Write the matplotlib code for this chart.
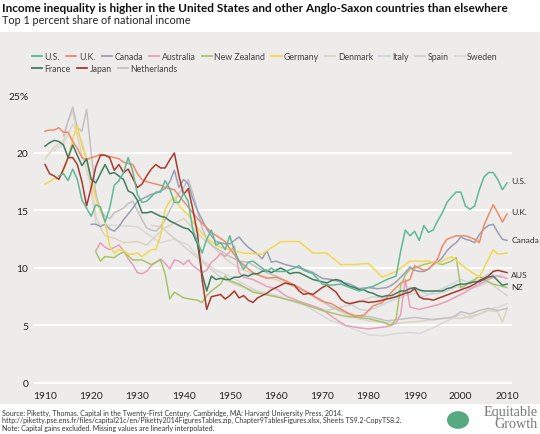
import matplotlib
matplotlib.use("Agg")
import matplotlib.pyplot as plt
from matplotlib.lines import Line2D
from matplotlib.patches import Rectangle, Circle

plt.rcParams['font.family'] = ['Lato', 'DejaVu Sans']

# top 1 percent share of national income, (year, percent)
us = [(1913, 18.0), (1914, 18.2), (1915, 17.6), (1916, 18.6), (1917, 17.7), (1918, 15.9), (1919, 15.2),
      (1920, 14.5), (1921, 15.5), (1922, 15.3), (1923, 14.0), (1924, 15.2), (1925, 17.2), (1926, 17.6),
      (1927, 18.3), (1928, 19.6), (1929, 18.4), (1930, 16.4), (1931, 15.7), (1932, 15.8), (1933, 16.2),
      (1934, 16.6), (1935, 16.6), (1936, 17.6), (1937, 16.9), (1938, 15.7), (1939, 15.7), (1940, 16.5),
      (1941, 15.8), (1942, 13.3), (1943, 12.3), (1944, 11.3), (1945, 12.5), (1946, 13.3), (1947, 12.0),
      (1948, 12.2), (1949, 11.6), (1950, 12.8), (1951, 11.5), (1952, 10.6), (1953, 9.9), (1954, 10.5),
      (1955, 10.6), (1956, 10.3), (1957, 10.0), (1958, 9.7), (1959, 10.0), (1960, 9.7), (1962, 9.7),
      (1964, 10.0), (1965, 10.2), (1966, 9.8), (1968, 9.5), (1970, 8.6), (1972, 8.5), (1974, 8.6),
      (1976, 8.3), (1978, 8.0), (1980, 8.3), (1981, 8.4), (1983, 8.8), (1984, 9.0), (1986, 9.3),
      (1987, 11.5), (1988, 13.3), (1989, 12.8), (1990, 13.2), (1991, 12.4), (1992, 13.7), (1993, 13.1),
      (1994, 13.3), (1995, 14.1), (1996, 14.8), (1997, 15.7), (1998, 16.2), (1999, 16.6), (2000, 16.6),
      (2001, 15.4), (2002, 15.1), (2003, 15.4), (2004, 16.8), (2005, 17.9), (2006, 18.3), (2007, 18.3),
      (2008, 17.7), (2009, 16.8), (2010, 17.4)]

uk = [(1910, 21.9), (1911, 22.0), (1912, 22.0), (1913, 22.2), (1914, 21.8), (1915, 21.8), (1916, 21.0),
      (1917, 20.4), (1918, 19.6), (1919, 19.4), (1920, 19.6), (1921, 19.7), (1922, 19.9), (1923, 19.8),
      (1924, 19.7), (1925, 19.6), (1926, 19.5), (1927, 19.2), (1928, 19.1), (1929, 19.0), (1930, 18.2),
      (1931, 17.7), (1932, 17.5), (1933, 17.4), (1934, 17.3), (1935, 17.2), (1936, 17.0), (1937, 16.9),
      (1938, 16.8), (1943, 14.3), (1946, 13.1), (1949, 12.3), (1950, 11.7), (1952, 10.6), (1955, 9.6),
      (1958, 9.1), (1960, 9.2), (1962, 8.9), (1965, 8.3), (1968, 7.6), (1970, 7.1), (1972, 6.9),
      (1975, 6.2), (1977, 5.8), (1979, 5.9), (1981, 6.7), (1983, 7.0), (1985, 7.9), (1987, 8.7),
      (1989, 9.0), (1990, 10.2), (1992, 9.8), (1993, 9.9), (1994, 10.3), (1995, 10.8), (1996, 11.9),
      (1997, 12.5), (1999, 12.8), (2001, 12.8), (2003, 12.5), (2004, 12.2), (2005, 13.7), (2006, 14.6),
      (2007, 15.5), (2008, 14.8), (2009, 14.0), (2010, 14.7)]

canada = [(1920, 13.8), (1921, 13.8), (1922, 13.6), (1923, 13.8), (1924, 13.4), (1925, 13.2), (1926, 13.6),
          (1927, 14.2), (1928, 14.7), (1929, 15.2), (1930, 15.8), (1931, 16.0), (1932, 16.2), (1933, 16.4),
          (1934, 16.5), (1935, 16.7), (1936, 16.9), (1937, 17.5), (1938, 18.5), (1939, 17.0), (1940, 17.7),
          (1941, 17.3), (1942, 16.0), (1943, 15.0), (1944, 14.2), (1945, 13.4), (1946, 12.8), (1947, 12.3),
          (1948, 12.2), (1949, 12.1), (1950, 12.1), (1951, 12.4), (1952, 12.7), (1953, 12.2), (1954, 11.8),
          (1955, 11.5), (1956, 11.2), (1957, 10.8), (1958, 11.5), (1959, 10.5), (1960, 10.6), (1962, 10.3),
          (1964, 10.1), (1966, 9.9), (1968, 9.6), (1970, 9.1), (1972, 9.0), (1974, 8.8), (1976, 8.6),
          (1978, 8.2), (1980, 8.3), (1982, 8.2), (1984, 8.3), (1985, 8.5), (1986, 8.8), (1987, 9.2),
          (1988, 9.6), (1989, 10.1), (1990, 9.8), (1991, 9.7), (1992, 9.7), (1993, 9.9), (1994, 10.3),
          (1995, 10.5), (1996, 10.9), (1997, 11.5), (1998, 11.9), (1999, 12.2), (2000, 12.7), (2001, 12.5),
          (2002, 12.4), (2003, 12.2), (2004, 12.9), (2005, 13.4), (2006, 13.7), (2007, 13.8), (2008, 13.1),
          (2009, 12.5), (2010, 12.4)]

australia = [(1921, 11.5), (1922, 12.2), (1923, 11.8), (1924, 11.6), (1925, 11.8), (1926, 12.0), (1927, 11.5),
             (1928, 10.8), (1929, 10.3), (1930, 9.6), (1931, 9.5), (1932, 9.7), (1933, 10.2), (1934, 10.5),
             (1935, 10.8), (1936, 10.4), (1937, 9.9), (1938, 10.7), (1939, 10.6), (1940, 10.3), (1941, 10.7),
             (1942, 10.2), (1943, 9.9), (1944, 9.6), (1945, 9.8), (1946, 10.5), (1947, 10.8), (1948, 11.3),
             (1949, 11.0), (1950, 11.4), (1951, 11.9), (1952, 9.6), (1953, 9.2), (1955, 9.0), (1958, 8.4),
             (1960, 8.2), (1962, 7.6), (1965, 7.1), (1968, 6.7), (1970, 6.4), (1972, 5.8), (1975, 5.0),
             (1978, 4.8), (1980, 4.7), (1982, 4.8), (1984, 4.9), (1986, 5.2), (1987, 6.0), (1988, 9.0),
             (1989, 6.6), (1991, 6.4), (1993, 6.6), (1995, 6.8), (1997, 7.1), (1999, 7.5), (2001, 7.9),
             (2003, 8.4), (2005, 8.8), (2007, 9.2), (2008, 9.3), (2010, 9.1)]

new_zealand = [(1921, 11.4), (1922, 10.6), (1923, 11.0), (1925, 10.9), (1926, 11.2), (1927, 11.4), (1929, 10.7),
               (1931, 10.7), (1933, 10.3), (1935, 10.7), (1936, 9.5), (1937, 7.3), (1938, 7.9), (1940, 7.4),
               (1943, 7.2), (1944, 7.0), (1945, 7.6), (1946, 8.0), (1947, 8.3), (1948, 8.6), (1949, 9.3),
               (1950, 8.9), (1952, 8.6), (1955, 7.9), (1960, 7.5), (1965, 7.0), (1970, 6.3), (1975, 5.8),
               (1980, 5.6), (1983, 5.3), (1985, 5.0), (1986, 5.6), (1987, 8.5), (1988, 9.4), (1989, 9.9),
               (1990, 10.0), (1992, 10.3), (1994, 10.5), (1996, 10.3), (1998, 10.6), (1999, 10.9), (2000, 8.3),
               (2001, 8.5), (2002, 8.8), (2003, 9.0), (2004, 9.3), (2005, 9.0), (2006, 8.8), (2007, 8.6),
               (2008, 8.5), (2009, 8.4), (2010, 8.3)]

germany = [(1910, 17.3), (1911, 17.5), (1912, 17.8), (1913, 17.8), (1914, 18.5), (1915, 19.5), (1916, 21.2),
           (1917, 22.4), (1918, 20.6), (1919, 19.5), (1920, 17.8), (1921, 16.0), (1922, 15.0), (1923, 14.0),
           (1924, 11.9), (1925, 11.3), (1926, 11.6), (1927, 11.5), (1928, 11.2), (1929, 11.2), (1930, 11.3),
           (1931, 11.0), (1932, 11.3), (1933, 11.6), (1934, 11.6), (1935, 12.8), (1936, 15.1), (1937, 15.8),
           (1938, 16.2), (1939, 15.4), (1940, 15.0), (1941, 14.6), (1942, 14.0), (1943, 13.5), (1944, 13.0),
           (1945, 12.6), (1946, 12.3), (1947, 12.0), (1948, 11.8), (1950, 11.6), (1953, 11.3), (1957, 11.2),
           (1958, 11.5), (1960, 12.0), (1961, 12.3), (1965, 12.3), (1968, 11.3), (1971, 11.3), (1974, 10.3),
           (1977, 10.3), (1980, 10.4), (1983, 9.2), (1986, 9.7), (1989, 10.6), (1993, 10.6), (1995, 10.4),
           (1998, 11.0), (2001, 10.0), (2004, 9.2), (2007, 11.6), (2008, 11.2), (2010, 11.3)]

denmark = [(1910, 19.5), (1912, 20.5), (1914, 21.0), (1915, 22.8), (1916, 23.6), (1917, 21.5), (1918, 19.8),
           (1919, 18.5), (1920, 17.0), (1921, 14.5), (1922, 13.5), (1923, 12.8), (1925, 12.6), (1927, 12.2),
           (1930, 12.3), (1932, 12.0), (1934, 12.8), (1936, 13.5), (1938, 13.9), (1940, 14.3), (1942, 13.5),
           (1944, 12.6), (1946, 12.0), (1948, 11.2), (1950, 10.5), (1952, 10.0), (1955, 9.5), (1958, 9.2),
           (1960, 9.0), (1963, 8.5), (1966, 8.0), (1969, 7.3), (1972, 6.6), (1975, 6.0), (1978, 5.6),
           (1980, 5.4), (1983, 5.3), (1986, 5.2), (1989, 5.3), (1992, 5.4), (1995, 5.6), (1998, 5.7),
           (2000, 5.6), (2002, 5.8), (2004, 6.0), (2006, 6.3), (2008, 6.2), (2009, 5.3), (2010, 6.4)]

italy = [(1974, 7.2), (1976, 6.9), (1978, 6.4), (1980, 6.3), (1982, 6.6), (1984, 7.0), (1986, 7.3), (1988, 7.6),
         (1990, 7.8), (1992, 7.5), (1994, 7.9), (1996, 8.2), (1998, 8.6), (2000, 9.0), (2002, 8.7), (2004, 9.0),
         (2006, 9.5), (2008, 9.3), (2009, 9.4)]

spain = [(1933, 13.7), (1935, 13.6), (1945, 10.2), (1948, 9.2), (1951, 8.6), (1954, 8.2), (1957, 7.8),
         (1960, 7.6), (1963, 7.2), (1966, 6.8), (1969, 6.5), (1971, 6.3), (1976, 6.8), (1981, 7.5), (1983, 7.4),
         (1985, 7.3), (1987, 7.8), (1989, 8.3), (1991, 8.0), (1993, 7.7), (1995, 7.8), (1997, 8.0), (1999, 8.4),
         (2001, 8.2), (2003, 8.3), (2005, 8.6), (2006, 8.8), (2008, 8.2), (2010, 7.6)]

sweden = [(1912, 20.2), (1914, 20.8), (1916, 22.5), (1918, 21.0), (1919, 19.5), (1920, 17.0), (1921, 13.8),
          (1925, 13.7), (1930, 13.6), (1932, 13.0), (1935, 12.2), (1938, 12.5), (1941, 12.0), (1943, 11.0),
          (1945, 10.4), (1947, 9.8), (1950, 9.3), (1953, 8.6), (1956, 8.0), (1960, 7.6), (1963, 7.2),
          (1966, 6.8), (1969, 6.1), (1972, 5.4), (1975, 5.0), (1978, 4.5), (1980, 4.2), (1983, 4.1),
          (1986, 4.3), (1989, 4.4), (1991, 4.3), (1994, 4.8), (1997, 5.4), (2000, 6.0), (2002, 5.6),
          (2004, 6.0), (2006, 6.4), (2008, 6.6), (2010, 6.9)]

france = [(1910, 20.6), (1911, 20.9), (1912, 21.1), (1913, 21.0), (1914, 20.7), (1915, 19.6), (1916, 20.7),
          (1917, 19.8), (1918, 18.9), (1919, 19.5), (1920, 17.7), (1921, 17.4), (1922, 18.2), (1923, 19.0),
          (1924, 18.2), (1925, 18.3), (1926, 18.0), (1927, 17.7), (1928, 16.7), (1929, 16.5), (1930, 15.9),
          (1931, 14.8), (1932, 14.8), (1933, 14.9), (1934, 14.7), (1935, 14.5), (1936, 14.4), (1937, 14.1),
          (1938, 13.9), (1939, 13.7), (1940, 13.5), (1941, 13.4), (1942, 13.0), (1943, 12.1), (1944, 9.5),
          (1945, 8.0), (1946, 9.3), (1947, 9.0), (1948, 9.1), (1949, 9.0), (1950, 9.0), (1951, 9.2),
          (1952, 9.2), (1953, 9.4), (1954, 9.3), (1955, 9.5), (1956, 9.5), (1957, 9.7), (1958, 9.8),
          (1959, 9.6), (1960, 9.8), (1961, 10.0), (1962, 9.8), (1963, 9.5), (1964, 9.6), (1965, 9.6),
          (1966, 9.4), (1967, 9.2), (1968, 9.0), (1969, 8.9), (1970, 8.8), (1971, 8.7), (1972, 8.9),
          (1973, 9.0), (1974, 8.9), (1975, 8.6), (1976, 8.4), (1977, 8.3), (1978, 8.1), (1979, 8.1),
          (1980, 7.9), (1981, 7.8), (1982, 7.6), (1983, 7.5), (1984, 7.6), (1985, 7.6), (1986, 7.8),
          (1987, 8.0), (1988, 8.0), (1989, 8.2), (1990, 8.3), (1991, 8.1), (1992, 8.0), (1993, 8.0),
          (1994, 8.0), (1995, 8.0), (1996, 8.0), (1997, 8.2), (1998, 8.3), (1999, 8.5), (2000, 8.6),
          (2001, 8.6), (2002, 8.7), (2003, 8.8), (2004, 8.8), (2005, 9.0), (2006, 9.2), (2007, 9.3),
          (2008, 8.9), (2009, 8.5), (2010, 8.6)]

japan = [(1910, 19.0), (1911, 18.2), (1912, 18.0), (1913, 17.7), (1914, 18.6), (1915, 19.6), (1916, 19.6),
         (1917, 19.0), (1918, 17.5), (1919, 15.4), (1920, 17.0), (1921, 18.8), (1922, 19.8), (1923, 19.8),
         (1924, 19.6), (1925, 18.5), (1926, 19.0), (1927, 18.3), (1928, 18.6), (1929, 17.8), (1930, 17.0),
         (1931, 17.3), (1932, 18.0), (1933, 18.6), (1934, 19.0), (1935, 18.7), (1936, 18.7), (1937, 19.4),
         (1938, 20.0), (1939, 18.0), (1940, 16.4), (1941, 16.9), (1942, 15.1), (1943, 13.0), (1944, 9.0),
         (1945, 6.4), (1946, 7.5), (1947, 7.6), (1948, 7.7), (1949, 7.3), (1950, 7.6), (1951, 8.0),
         (1952, 7.4), (1953, 7.6), (1954, 7.2), (1955, 7.0), (1956, 7.4), (1957, 7.6), (1958, 7.8),
         (1959, 8.1), (1960, 8.3), (1961, 8.5), (1962, 8.7), (1963, 8.6), (1964, 8.5), (1965, 8.0),
         (1966, 7.7), (1967, 7.8), (1968, 7.7), (1969, 8.0), (1970, 8.3), (1971, 8.5), (1972, 8.2),
         (1973, 7.9), (1974, 7.3), (1975, 7.0), (1976, 6.9), (1977, 7.0), (1978, 7.1), (1979, 7.1),
         (1980, 7.0), (1982, 7.1), (1984, 7.3), (1986, 7.5), (1988, 7.8), (1989, 7.9), (1990, 8.2),
         (1991, 7.5), (1992, 7.3), (1993, 7.3), (1994, 7.2), (1996, 7.5), (1998, 7.8), (2000, 8.1),
         (2002, 8.4), (2003, 8.6), (2004, 8.9), (2005, 9.1), (2006, 9.3), (2007, 9.7), (2008, 9.8),
         (2009, 9.7), (2010, 9.6)]

netherlands = [(1914, 21.5), (1915, 22.8), (1916, 24.0), (1917, 22.2), (1918, 21.9), (1919, 23.8), (1920, 20.0),
               (1921, 16.5), (1922, 15.0), (1923, 14.5), (1924, 14.3), (1925, 14.8), (1926, 15.0), (1927, 15.2),
               (1928, 15.6), (1929, 15.8), (1930, 15.0), (1931, 14.2), (1932, 13.5), (1933, 13.3), (1934, 13.2),
               (1935, 13.6), (1936, 14.2), (1937, 15.0), (1938, 15.8), (1939, 16.5), (1940, 17.0), (1941, 17.7),
               (1942, 16.5), (1943, 15.0), (1944, 13.5), (1945, 12.5), (1946, 12.0), (1948, 11.5), (1950, 11.0),
               (1952, 10.6), (1954, 10.5), (1956, 10.0), (1958, 9.6), (1960, 9.3), (1962, 8.9), (1964, 8.5),
               (1966, 8.0), (1968, 7.6), (1970, 7.2), (1972, 6.6), (1974, 6.3), (1976, 6.0), (1978, 5.8),
               (1980, 5.8), (1982, 5.6), (1984, 5.4), (1986, 5.5), (1988, 5.6), (1990, 5.7), (1992, 5.6),
               (1994, 5.5), (1996, 5.6), (1998, 5.7), (1999, 5.9), (2000, 6.2), (2002, 6.0), (2004, 6.3),
               (2006, 6.5), (2008, 6.3), (2010, 6.5)]

# name, data, colour (drawing order: faint lines first)
series = [
    ("Sweden", sweden, "#d9d8d6"),
    ("Spain", spain, "#d6d1cc"),
    ("Italy", italy, "#cad6de"),
    ("Denmark", denmark, "#ddd4bf"),
    ("Netherlands", netherlands, "#c4c1c6"),
    ("Australia", australia, "#e79fbc"),
    ("New Zealand", new_zealand, "#a9c46c"),
    ("Canada", canada, "#9a9eb6"),
    ("Germany", germany, "#f2d750"),
    ("U.K.", uk, "#ef8a6c"),
    ("France", france, "#3f7d5f"),
    ("Japan", japan, "#a63a2e"),
    ("U.S.", us, "#5db996"),
]
legend_row1 = ["U.S.", "U.K.", "Canada", "Australia", "New Zealand", "Germany",
               "Denmark", "Italy", "Spain", "Sweden"]
legend_row2 = ["France", "Japan", "Netherlands"]

end_labels = [("U.S.", 17.6), ("U.K.", 14.9), ("Canada", 12.5), ("AUS", 9.4), ("NZ", 8.35)]

fig = plt.figure(figsize=(5.4, 4.35), dpi=100)
fig.patches.append(Rectangle((0, 30 / 435), 1, 372 / 435, transform=fig.transFigure,
                             facecolor="#eeecea", edgecolor="none", zorder=-5))

ax = fig.add_axes([34 / 540, 49 / 435, 478 / 540, 296 / 435])
ax.set_zorder(2)
ax.set_facecolor("none")
ax.set_xlim(1907.62, 2011.08)
ax.set_ylim(-0.174, 25.565)
for s in ax.spines.values():
    s.set_visible(False)

for g in [0, 5, 10, 15, 20]:
    ax.axhline(g, color="white", lw=1.3, zorder=1)

colors = {}
for name, data, col in series:
    yrs = [d[0] for d in data]
    vals = [d[1] for d in data]
    ax.plot(yrs, vals, color=col, lw=1.1, zorder=2)
    colors[name] = col

ax.set_yticks([0, 5, 10, 15, 20, 25])
ax.set_yticklabels(["0", "5", "10", "15", "20", "25%"])
ax.set_xticks(range(1910, 2011, 10))
ax.tick_params(length=0, labelsize=7.4, labelcolor="#222222")
ax.tick_params(axis="y", pad=4)
ax.tick_params(axis="x", pad=4)

for txt, yv in end_labels:
    ax.text(2010.9, yv, txt, fontsize=6.1, color="#333333", va="center", ha="left")

leg_kw = dict(loc="upper left", frameon=False, fontsize=6.3, handlelength=1.15,
              handletextpad=0.3, columnspacing=0.7, borderaxespad=0, borderpad=0,
              labelcolor="#444444")
h1 = [Line2D([], [], color=colors[n], lw=1.3) for n in legend_row1]
fig.legend(h1, legend_row1, bbox_to_anchor=(32 / 540, 1 - 53 / 435), ncol=len(legend_row1), **leg_kw)
h2 = [Line2D([], [], color=colors[n], lw=1.3) for n in legend_row2]
fig.legend(h2, legend_row2, bbox_to_anchor=(32 / 540, 1 - 65 / 435), ncol=len(legend_row2), **leg_kw)

fig.text(2 / 540, 1 - 8 / 435, "Income inequality is higher in the United States and other Anglo-Saxon countries than elsewhere",
         fontsize=8.5, fontweight="bold", color="#111111", va="center", ha="left")
fig.text(2 / 540, 1 - 21 / 435, "Top 1 percent share of national income",
         fontsize=7.8, color="#222222", va="center", ha="left")

notes = ("Source: Piketty, Thomas. Capital in the Twenty-First Century. Cambridge, MA: Harvard University Press, 2014.\n"
         "http://piketty.pse.ens.fr/files/capital21c/en/Piketty2014FiguresTables.zip, Chapter9TablesFigures.xlsx, Sheets TS9.2-CopyTS8.2.\n"
         "Note: Capital gains excluded. Missing values are linearly interpolated.")
fig.text(2 / 540, 1 - 410 / 435, notes, fontsize=5.0, color="#333333", va="top", ha="left", linespacing=1.05)

# logo
fig.patches.append(Circle((458 / 540, 1 - 421 / 435), 11 / 540, transform=fig.transFigure,
                          facecolor="#55aa80", edgecolor="none"))
fig.text(538 / 540, 1 - 419 / 435, "Equitable\nGrowth", fontsize=10.2, family=["Liberation Serif", "DejaVu Serif"],
         color="#777777", ha="right", va="center", multialignment="right", linespacing=0.9)

fig.savefig("out.png", dpi=100)
